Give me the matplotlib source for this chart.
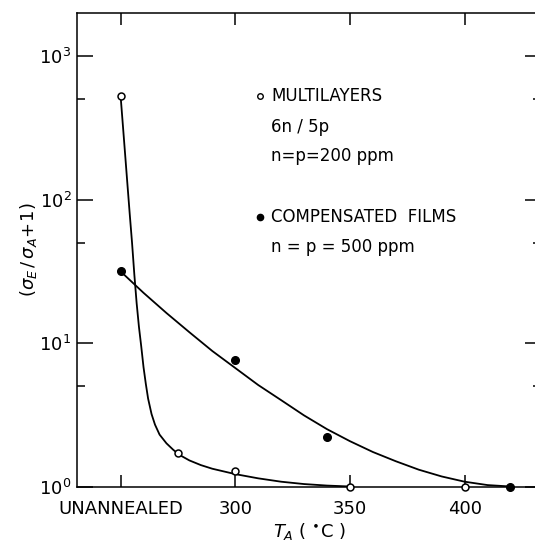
import matplotlib
matplotlib.use("Agg")
import matplotlib.pyplot as plt
import numpy as np

# measured points
ml_x = [250, 275, 300, 350, 400]
ml_y = [530, 1.7, 1.28, 1.0, 1.0]
cf_x = [250, 300, 340, 420]
cf_y = [31.6, 7.6, 2.22, 1.0]

# hand-drawn fit curves
ml_curve_x = [250, 251, 252, 253, 254, 255, 256, 257, 258, 259, 260, 261, 262,
              263.5, 265, 267, 270, 273, 276, 280, 285, 290, 300, 310, 320, 330, 340, 350]
ml_curve_y = [530, 330, 205, 127, 79, 50, 30, 19, 13, 9.5, 6.8, 5.2, 4.1,
              3.2, 2.7, 2.3, 2.0, 1.8, 1.65, 1.52, 1.41, 1.33, 1.22, 1.14, 1.08, 1.04, 1.015, 1.0]
cf_curve_x = [250, 260, 270, 280, 290, 300, 310, 320, 330, 340, 350, 360,
              370, 380, 390, 400, 410, 420]
cf_curve_y = [31.6, 22.4, 16.2, 11.9, 8.8, 6.7, 5.1, 4.0, 3.13, 2.51, 2.07, 1.74,
              1.50, 1.31, 1.175, 1.08, 1.023, 1.0]

xticks = [250, 300, 350, 400]
xticklabels = ["UNANNEALED", "300", "350", "400"]

fig = plt.figure(figsize=(5.35, 5.46), dpi=100)
ax = fig.add_axes([77 / 535, 59.5 / 546, (541 - 77) / 535, (486.5 - 13) / 546])

ax.plot(ml_curve_x, ml_curve_y, color="black", lw=1.3, zorder=2)
ax.plot(cf_curve_x, cf_curve_y, color="black", lw=1.3, zorder=2)
ax.plot(ml_x, ml_y, "o", ms=5, mfc="white", mec="black", mew=1.1, zorder=3, clip_on=False)
ax.plot(cf_x, cf_y, "o", ms=5.5, mfc="black", mec="black", zorder=3, clip_on=False)

ax.set_yscale("log")
ax.set_xlim(231, 433.3)
ax.set_ylim(1, 2000)

ax.set_xticks(xticks)
ax.set_xticklabels(xticklabels)
ax.set_yticks([1, 10, 100, 1000])
ax.set_yticks([5, 50, 500], minor=True)
ax.yaxis.set_minor_formatter(matplotlib.ticker.NullFormatter())
ax.xaxis.set_minor_locator(matplotlib.ticker.NullLocator())

ax.tick_params(axis="x", which="major", direction="in", length=8.5, width=1.1,
               top=True, labelsize=13, pad=10)
ax.tick_params(axis="y", which="major", direction="in", length=11.5, width=1.1,
               right=True, labelsize=13, pad=4)
ax.tick_params(axis="y", which="minor", direction="in", length=5.5, width=1.1, right=True)
for s in ax.spines.values():
    s.set_linewidth(1.1)
ax.spines["right"].set_visible(False)

ax.set_xlabel(r"$T_A$ ( $^{\bullet}$C )", fontsize=13, labelpad=2)
ax.set_ylabel(r"$(\sigma_E\,/\,\sigma_A\!+\!1)$", fontsize=13, labelpad=0)

# legend written as text in the plot
ax.plot([0.395], [0.825], "o", ms=4, mfc="white", mec="black", mew=1, transform=ax.transAxes)
ax.text(0.418, 0.825, "MULTILAYERS", transform=ax.transAxes, fontsize=12, va="center")
ax.text(0.418, 0.759, "6n / 5p", transform=ax.transAxes, fontsize=12, va="center")
ax.text(0.418, 0.697, "n=p=200 ppm", transform=ax.transAxes, fontsize=12, va="center")
ax.plot([0.395], [0.569], "o", ms=4.5, mfc="black", mec="black", transform=ax.transAxes)
ax.text(0.418, 0.569, "COMPENSATED  FILMS", transform=ax.transAxes, fontsize=12, va="center")
ax.text(0.418, 0.506, "n = p = 500 ppm", transform=ax.transAxes, fontsize=12, va="center")

fig.savefig("out.png", dpi=100)
